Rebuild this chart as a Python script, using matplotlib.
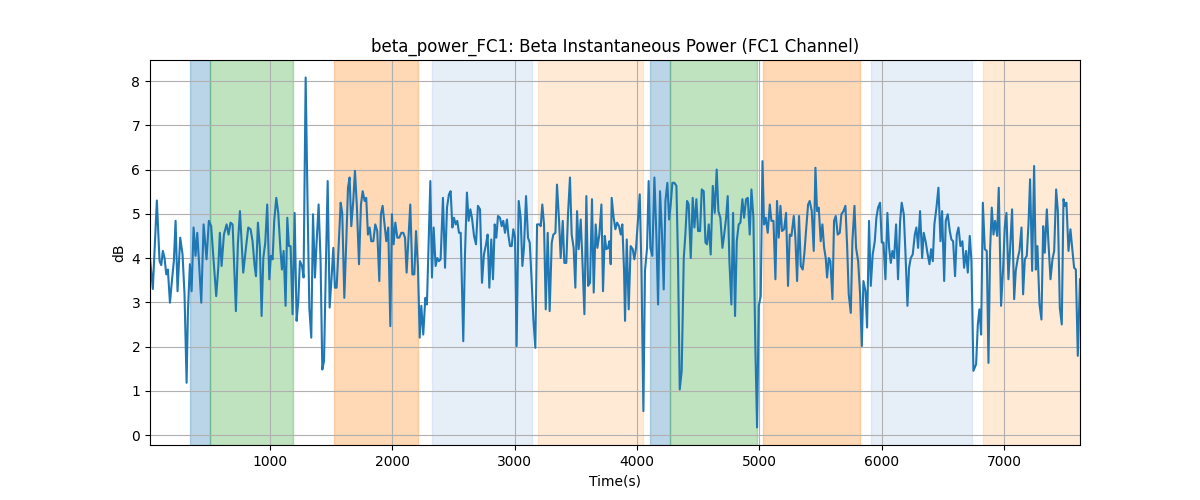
#!/usr/bin/env python
# -*- coding: utf-8 -*-

import matplotlib
matplotlib.use('Agg')
import matplotlib.pyplot as plt

# time stamps (s) of the beta power samples
time_s = [20, 43, 76, 98, 112, 125, 139, 153, 166, 183, 199, 215, 229, 245, 267, 286, 302, 319, 330, 346,
          360, 376, 392, 406, 420, 439, 458, 482, 501, 520, 540, 561, 578, 591, 605, 624, 646, 662, 678, 695,
          722, 738, 755,
          782, 804, 823, 842, 858, 875, 886, 902, 918, 932, 946, 962, 978, 995, 1008, 1022, 1035, 1052, 1068, 1085,
          1098, 1112, 1128, 1142, 1155, 1169, 1185, 1202, 1218, 1232, 1245, 1262, 1275, 1292, 1308, 1322, 1338, 1352,
          1368, 1382, 1398, 1414, 1428, 1442, 1458, 1472, 1488, 1504, 1518, 1531,
          1545, 1561, 1578, 1591, 1608, 1624, 1638, 1651, 1665, 1681, 1695, 1711, 1728, 1744, 1758, 1774, 1787, 1801,
          1815, 1828, 1845, 1861, 1877, 1894, 1907, 1921, 1937, 1951, 1967, 1984, 1997, 2011, 2025, 2041, 2057, 2074,
          2090, 2104, 2117, 2134, 2147, 2164, 2180, 2194, 2210, 2224, 2237, 2253, 2270, 2283,
          2311, 2324, 2338, 2354, 2368, 2382, 2395, 2414, 2431, 2447, 2463, 2477, 2491, 2504, 2518, 2531, 2545, 2559,
          2580, 2594, 2610, 2624, 2638, 2651, 2668, 2684, 2700, 2717, 2733, 2749, 2766, 2779, 2793, 2809, 2823, 2837,
          2850, 2864, 2880, 2894, 2907, 2921, 2937, 2948, 2962, 2976, 2989, 3003, 3016,
          3033, 3049, 3063, 3076, 3093, 3109, 3123, 3139, 3153, 3169, 3183, 3202, 3213, 3226, 3240, 3254, 3270, 3286,
          3303, 3316, 3333, 3346, 3363, 3376, 3393, 3406, 3422, 3436, 3452, 3466, 3482, 3496, 3510, 3523, 3540, 3556,
          3570, 3586, 3600, 3616, 3632, 3646, 3662, 3676, 3692, 3709, 3722, 3736, 3749, 3763, 3774, 3785,
          3793, 3809, 3823, 3837, 3853, 3867, 3880, 3894, 3902, 3916, 3932, 3948, 3965, 3978, 3992, 4008, 4022, 4036,
          4052, 4065, 4082, 4095, 4109, 4125, 4142, 4158, 4172, 4188, 4204, 4218, 4232, 4248, 4262, 4275, 4289, 4305,
          4322, 4335, 4349, 4365, 4382, 4395, 4409, 4422, 4439, 4455, 4469, 4485, 4499, 4515,
          4529, 4545, 4559, 4572, 4586, 4602, 4619, 4635, 4651, 4665, 4681, 4698, 4711, 4728, 4741, 4755, 4771, 4785,
          4801, 4815, 4831, 4845, 4861, 4875, 4891, 4905, 4921, 4935, 4951, 4967, 4981, 4995, 5011, 5025, 5038, 5052,
          5068, 5085, 5098, 5115, 5131, 5144, 5158, 5172, 5185, 5202, 5218, 5234, 5248, 5262,
          5281, 5294, 5308, 5324, 5338, 5354, 5368, 5381, 5398, 5411, 5428, 5444, 5458, 5471, 5485, 5501, 5515, 5529,
          5542, 5553, 5567, 5580, 5597, 5610, 5624, 5640, 5657, 5670, 5687, 5703, 5717, 5730, 5747, 5760, 5777, 5790,
          5807, 5823, 5837, 5850, 5867, 5880, 5896, 5910, 5926, 5943, 5956, 5970, 5986, 6000, 6014, 6030,
          6046, 6060, 6074, 6087, 6101, 6117, 6133, 6150, 6163, 6180, 6193, 6210, 6223, 6237, 6253, 6270, 6283, 6297,
          6313, 6330, 6343, 6360, 6373, 6390, 6403, 6417, 6430, 6447, 6463, 6480, 6493, 6510, 6523, 6539, 6556, 6569,
          6583, 6599, 6613, 6627, 6643, 6659, 6673, 6689, 6703, 6719, 6733, 6749,
          6771, 6785, 6798, 6812, 6826, 6842, 6858, 6872, 6885, 6899, 6913, 6926, 6943, 6956, 6975, 6992, 7005, 7019,
          7035, 7052, 7065, 7082, 7095, 7112, 7125, 7142, 7155, 7169, 7185, 7199, 7212, 7229, 7245, 7259, 7272, 7289,
          7305, 7319, 7332, 7349, 7362, 7379, 7395, 7409, 7425, 7439, 7455, 7471, 7485, 7496, 7509, 7526, 7542, 7556,
          7572, 7586, 7602, 7620]

# beta instantaneous power (dB)
power_db = [4.0, 3.3, 5.3, 3.93, 3.84, 4.16, 4.0, 3.63, 3.74, 2.99, 3.48, 3.93, 4.84, 3.25, 4.46, 4.08, 3.18, 1.18, 2.8, 3.86,
            3.25, 4.69, 4.05, 4.57, 3.93, 2.99, 4.76, 3.97, 4.84, 4.72, 3.93, 3.14, 3.78, 4.57, 3.82, 4.53, 4.76, 4.53, 4.8, 4.76,
            2.8, 4.31, 5.06,
            3.67, 4.23, 4.69, 4.65, 4.38, 3.82, 3.59, 4.8, 4.23, 2.69, 4.0, 4.35, 5.21, 3.52, 4.05, 3.97, 4.84, 5.36, 5.02, 4.23,
            3.74, 4.16, 2.92, 4.91, 4.27, 4.27, 2.73, 5.02, 2.58, 3.03, 3.93, 3.82, 3.56, 8.08, 5.14, 2.88, 2.2, 4.99,
            3.56, 4.38, 5.21, 3.93, 1.48, 1.67, 3.93, 5.74, 2.88, 3.56, 4.23, 3.33,
            3.33, 4.23, 5.25, 5.02, 3.1, 4.38, 5.59, 5.82, 4.72, 5.29, 5.97, 5.14, 3.86, 5.21, 5.51, 5.29, 5.36, 4.53,
            4.69, 4.38, 4.38, 4.76, 4.61, 3.48, 4.99, 5.18, 4.76, 4.38, 4.69, 2.46, 4.99, 4.31, 4.8, 4.46, 4.46, 4.57,
            4.57, 4.46, 3.67, 4.53, 5.21, 3.63, 3.63, 4.61, 3.78, 2.2, 2.92, 2.27, 3.1, 2.95,
            5.74, 3.56, 4.69, 3.82, 4.0, 3.93, 3.97, 5.36, 3.78, 5.14, 5.44, 5.51, 4.69, 4.91, 4.76, 4.84, 4.57, 4.57,
            2.12, 4.08, 5.48, 4.84, 5.1, 4.91, 4.5, 4.31, 5.18, 5.1, 3.44, 4.08, 4.31, 4.53, 3.33, 4.42, 3.52, 4.76,
            4.46, 4.95, 4.91, 4.72, 4.84, 4.57, 4.87, 4.53, 4.27, 4.27, 4.65, 4.46, 2.01,
            5.29, 4.91, 3.82, 4.23, 5.4, 4.46, 4.35, 3.48, 2.61, 1.97, 4.76, 4.76, 4.72, 5.21, 4.76, 2.84, 4.57, 2.8,
            4.35, 4.53, 4.57, 5.66, 4.84, 4.0, 4.84, 3.89, 3.89, 4.99, 5.82, 4.53, 4.23, 3.33, 5.06, 4.2, 4.87, 3.78,
            2.73, 5.4, 3.37, 3.44, 5.33, 3.22, 4.76, 4.23, 4.53, 5.21, 3.25, 4.5, 4.2, 4.23, 4.38, 3.86,
            5.36, 4.91, 4.65, 4.8, 4.72, 4.53, 4.76, 3.71, 2.58, 4.42, 2.84, 4.27, 4.2, 3.97, 4.23, 4.87, 5.44, 3.78,
            0.54, 3.71, 4.23, 5.74, 4.23, 4.05, 5.82, 4.53, 2.95, 5.51, 4.53, 3.29, 5.29, 5.7, 4.87, 5.21, 5.7, 5.7,
            5.63, 3.93, 1.03, 1.45, 4.0, 4.53, 5.29, 5.21, 4.0, 5.36, 4.69, 5.33, 4.61, 4.61,
            5.55, 5.51, 4.35, 4.31, 4.76, 4.08, 5.63, 5.02, 6.0, 5.06, 4.91, 4.23, 4.5, 4.91, 5.4, 3.93, 2.95, 5.02,
            2.69, 4.38, 4.76, 4.8, 5.33, 4.91, 5.33, 5.36, 4.53, 5.55, 4.91, 1.97, 0.17, 2.92, 3.14, 6.19, 4.76, 4.91,
            4.57, 5.21, 4.84, 4.84, 3.52, 5.29, 4.46, 5.18, 4.61, 4.65, 5.02, 3.37, 4.53, 4.5,
            4.95, 4.46, 3.48, 4.95, 3.82, 3.74, 4.12, 4.61, 5.21, 5.29, 5.06, 4.16, 6.04, 5.06, 5.14, 4.38, 4.76, 4.23,
            4.0, 3.56, 4.0, 3.93, 3.07, 4.84, 4.95, 4.53, 4.57, 4.99, 5.06, 5.18, 4.27, 3.18, 2.76, 4.38, 5.18, 4.23,
            3.93, 3.18, 2.01, 3.48, 3.25, 2.43, 4.84, 3.37, 4.08, 4.38, 4.91, 5.14, 5.25, 4.35, 4.35, 3.52,
            5.02, 4.23, 3.89, 4.16, 4.0, 4.76, 3.52, 4.84, 5.25, 4.99, 4.16, 2.92, 3.78, 4.0, 4.08, 4.53, 4.69, 4.23,
            5.06, 4.0, 4.57, 4.35, 4.12, 3.86, 4.2, 3.93, 4.76, 5.14, 5.59, 4.38, 5.06, 3.48, 4.84, 4.99, 4.61, 4.42,
            4.38, 3.59, 4.53, 4.69, 4.27, 4.38, 3.78, 4.16, 3.67, 4.5, 3.93, 1.45,
            1.6, 2.5, 2.84, 2.27, 5.25, 4.2, 4.16, 1.63, 4.16, 5.14, 4.53, 4.84, 4.5, 5.59, 2.92, 3.78, 4.69, 5.02,
            3.52, 4.38, 5.1, 3.07, 3.71, 4.0, 4.16, 4.69, 3.18, 3.97, 4.05, 4.76, 5.78, 3.71, 6.08, 3.74, 4.27, 2.95,
            2.61, 4.72, 4.12, 5.1, 4.35, 3.52, 3.97, 4.16, 5.55, 5.06, 2.88, 2.5, 5.33, 5.18, 5.25, 4.16, 4.65, 4.23,
            3.78, 3.74, 1.79, 3.52]

# shaded task blocks: start, end, colour (all drawn with alpha 0.3)
span_start = [346, 510, 1524, 2324, 3191, 4106, 4270, 5030, 5913, 6829]
span_end = [510, 1188, 2211, 3141, 4049, 4270, 4981, 5823, 6739, 7621]
span_color = ['tab:blue', 'tab:green', 'tab:orange', '#aec7e8', '#ffbb78',
              'tab:blue', 'tab:green', 'tab:orange', '#aec7e8', '#ffbb78']

fig, ax = plt.subplots(figsize=(12, 5), dpi=100)

for s, e, c in zip(span_start, span_end, span_color):
    ax.axvspan(s, e, color=c, alpha=0.3)

ax.plot(time_s, power_db, color='tab:blue')
ax.set_xlim(time_s[0], time_s[-1])
ax.grid(True)
ax.set_title('beta_power_FC1: Beta Instantaneous Power (FC1 Channel)')
ax.set_xlabel('Time(s)')
ax.set_ylabel('dB')

plt.savefig('out.png')
